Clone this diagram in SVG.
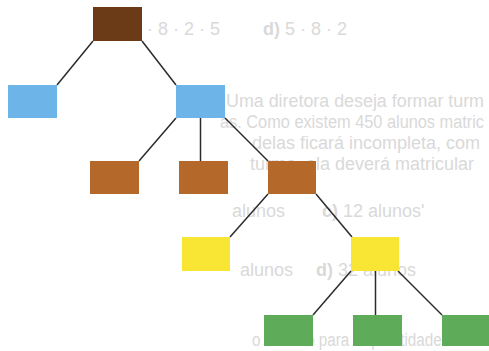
<svg xmlns="http://www.w3.org/2000/svg" width="489" height="351" viewBox="0 0 489 351">
<style>
.bg{font-family:"Liberation Sans",Arial,sans-serif;font-size:18px;fill:#d9d9d9}
.edge{stroke:#2b2b2b;stroke-width:1.5;fill:none}
.root{fill:#6b3a17}
.blue{fill:#6db5e8}
.brown{fill:#b4692b}
.yellow{fill:#f9e533}
.green{fill:#5eab5a}
</style>
<rect width="489" height="351" fill="#ffffff"/>
<g id="background-text" class="bg">
<text x="147" y="35">· 8 · 2 · 5</text>
<text x="263" y="35"><tspan font-weight="bold">d)</tspan> 5 · 8 · 2</text>
<text x="226" y="107" textLength="258" lengthAdjust="spacingAndGlyphs">Uma diretora deseja formar turm</text>
<text x="220" y="128" textLength="264" lengthAdjust="spacingAndGlyphs">as. Como existem 450 alunos matric</text>
<text x="252" y="149">delas ficará incompleta, com</text>
<text x="250" y="170">turma, ela deverá matricular</text>
<text x="232" y="217">alunos</text>
<text x="322" y="217"><tspan font-weight="bold">c)</tspan> 12 alunos'</text>
<text x="240" y="276">alunos</text>
<text x="316" y="276"><tspan font-weight="bold">d)</tspan> 32 alunos</text>
<text x="252" y="346" textLength="232" lengthAdjust="spacingAndGlyphs">o mínimo para a quantidade de bo</text>
</g>
<g id="connectors">
<line class="edge" x1="93" y1="41" x2="57" y2="85"/>
<line class="edge" x1="142" y1="41" x2="176" y2="85"/>
<line class="edge" x1="176" y1="118" x2="139" y2="161"/>
<line class="edge" x1="200.5" y1="118" x2="200.5" y2="161"/>
<line class="edge" x1="225" y1="118" x2="268" y2="161"/>
<line class="edge" x1="268" y1="194" x2="230" y2="237"/>
<line class="edge" x1="316" y1="194" x2="352" y2="237"/>
<line class="edge" x1="351" y1="271" x2="313" y2="315"/>
<line class="edge" x1="375.5" y1="271" x2="375.5" y2="315"/>
<line class="edge" x1="398" y1="271" x2="442" y2="315"/>
</g>
<g id="root"><rect class="root" x="93" y="7" width="49" height="34"/></g>
<g id="blue-left"><rect class="blue" x="8" y="85" width="49" height="33"/></g>
<g id="blue-right"><rect class="blue" x="176" y="85" width="49" height="33"/></g>
<g id="brown-1"><rect class="brown" x="90" y="161" width="49" height="33"/></g>
<g id="brown-2"><rect class="brown" x="179" y="161" width="49" height="33"/></g>
<g id="brown-3"><rect class="brown" x="268" y="161" width="48" height="33"/></g>
<g id="yellow-1"><rect class="yellow" x="182" y="237" width="48" height="34"/></g>
<g id="yellow-2"><rect class="yellow" x="351" y="237" width="48" height="34"/></g>
<g id="green-1"><rect class="green" x="264" y="315" width="49" height="31"/></g>
<g id="green-2"><rect class="green" x="353" y="315" width="49" height="31"/></g>
<g id="green-3"><rect class="green" x="442" y="315" width="48" height="31"/></g>
</svg>
